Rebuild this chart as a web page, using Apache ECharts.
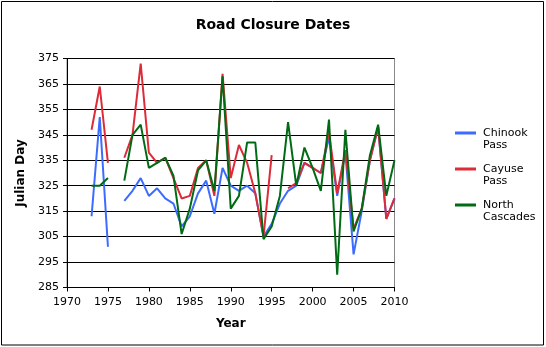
<!DOCTYPE html>
<html>
<head>
<meta charset="utf-8">
<script src="https://cdn.jsdelivr.net/npm/echarts@6/dist/echarts.min.js"></script>
<style>
html,body{margin:0;padding:0;background:#fff;}
#chart{width:546px;height:347px;}
</style>
</head>
<body>
<div id="chart"></div>
<script>
var years = [1973,1974,1975,1976,1977,1978,1979,1980,1981,1982,1983,1984,1985,1986,1987,1988,1989,1990,1991,1992,1993,1994,1995,1996,1997,1998,1999,2000,2001,2002,2003,2004,2005,2006,2007,2008,2009,2010];
var chinookPass = [313,352,301,null,319,323,328,321,324,320,318,309,313,322,327,314,332,325,323,325,322,305,310,318,323,325,334,332,330,344,321,338,298,315,335,348,312,320];
var cayusePass = [347,364,334,null,336,345,373,338,334,336,328,320,321,332,335,321,369,328,341,334,322,305,337,null,324,326,334,332,330,346,322,339,308,316,335,348,312,320];
var northCascades = [325,325,328,null,327,345,349,332,334,336,329,306,316,331,335,323,368,316,321,342,342,304,309,321,350,325,340,332,323,351,290,347,307,316,337,349,321,335];
var seriesNames = ['Chinook\nPass','Cayuse\nPass','North\nCascades'];
var seriesColors = ['#3c6cff','#dd2b38','#006b14'];
var xTicks = {min:1970, max:2010, step:5};
var yTicks = {min:285, max:375, step:10};

function pairs(vals){ return years.map(function(y,i){ return [y, vals[i]]; }); }

var FONT = 'DejaVu Sans';
var chart = echarts.init(document.getElementById('chart'), null, {renderer:'canvas'});
var seriesData = [chinookPass, cayusePass, northCascades];
chart.setOption({
  animation:false,
  backgroundColor:'#fff',
  title:{
    text:'Road Closure Dates', left:'center', top:13,
    textStyle:{fontFamily:FONT, fontSize:14, fontWeight:'bold', color:'#000'}
  },
  grid:{left:67, top:58.5, right:151.5, bottom:59.5, show:true, borderColor:'#888', borderWidth:1, backgroundColor:'#fff'},
  legend:{
    orient:'vertical', left:455, top:115, padding:0, itemGap:0,
    itemWidth:21, itemHeight:3,
    icon:'rect',
    data:seriesNames,
    formatter:function(n){ return '\n' + n; },
    textStyle:{fontFamily:FONT, fontSize:11, color:'#000', lineHeight:12, padding:[0,0,0,2]}
  },
  xAxis:{
    type:'value', min:xTicks.min, max:xTicks.max, interval:xTicks.step,
    name:'Year', nameLocation:'middle', nameGap:30,
    nameTextStyle:{fontFamily:FONT, fontSize:12, fontWeight:'bold', color:'#000'},
    axisLine:{lineStyle:{color:'#000', width:1}},
    axisTick:{show:true, inside:false, length:4, lineStyle:{color:'#000'}},
    axisLabel:{fontFamily:FONT, fontSize:11, color:'#000', margin:9, formatter:function(v){return String(v);}},
    splitLine:{show:false}
  },
  yAxis:{
    type:'value', min:yTicks.min, max:yTicks.max, interval:yTicks.step,
    name:'Julian Day', nameLocation:'middle', nameGap:28, nameRotate:90,
    nameTextStyle:{fontFamily:FONT, fontSize:12, fontWeight:'bold', color:'#000'},
    axisLine:{show:true, lineStyle:{color:'#000', width:1}},
    axisTick:{show:true, inside:false, length:4, lineStyle:{color:'#000'}},
    axisLabel:{fontFamily:FONT, fontSize:11, color:'#000', margin:8},
    splitLine:{show:true, lineStyle:{color:'#000', width:1}}
  },
  series: seriesNames.map(function(n,i){
    return {
      name:n, type:'line', data:pairs(seriesData[i]), showSymbol:false, symbol:'none',
      connectNulls:false,
      lineStyle:{color:seriesColors[i], width:2},
      itemStyle:{color:seriesColors[i]},
      z:2+i
    };
  }),
  graphic:[{
    type:'rect', shape:{x:1.5, y:1.5, width:542, height:343.5},
    style:{fill:'none', stroke:'#000', lineWidth:1}, silent:true
  }]
});
</script>
</body>
</html>
